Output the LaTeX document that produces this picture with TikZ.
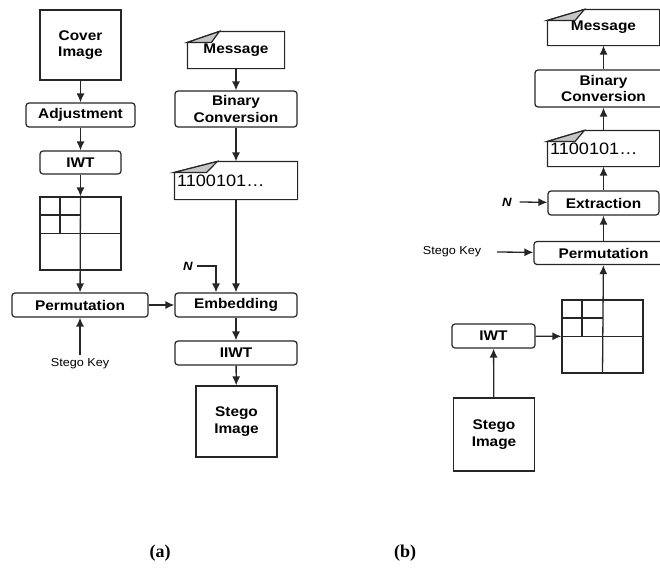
\documentclass[tikz,border=0pt]{standalone}
\usepackage{fontspec}
\setmainfont{Liberation Sans}[FakeStretch=1.1]
\newfontfamily\capfont{Liberation Serif}
\usetikzlibrary{arrows.meta, calc, positioning}

% folded-corner document outline around a node
\newcommand{\docfold}[2]{%
  \draw[boxline] (#1.south west) -- ($(#1.north west)+(0,11)$) -- ($(#1.north west)+(#2,0)$)
    -- (#1.north east) -- (#1.south east) -- cycle;
  \filldraw[boxline, fill=gray!45] ($(#1.north west)+(0,11)$) -- ($(#1.north west)+(#2,0)$)
    -- ($(#1.north west)+(0.75*#2,11)$) -- cycle;
}
% wavelet sub-band lines inside a square node
\newcommand{\subgrid}[1]{%
  \draw[boxline] (#1.west) -- (#1.east);
  \draw[boxline] ($(#1.north west)!0.25!(#1.north east)$) -- ($(#1.west)!0.25!(#1.east)$);
  \draw[boxline] ($(#1.north west)!0.5!(#1.west)$) -- ($(#1.north)!0.5!(#1.center)$);
}

\begin{document}
\begin{tikzpicture}[
        x=1pt, y=-1pt,
        >={Latex[length=9pt,width=8pt]},
        line width=1.2pt,
        boxline/.style={draw=black!85, line width=1.2pt},
        % rounded process boxes
        block/.style={
            rectangle,
            boxline,
            rounded corners=3pt,
            inner sep=0pt,
            minimum height=24pt,
            align=center,
            font=\bfseries\fontsize{14}{16.5}\selectfont
        },
        % image boxes
        imgblock/.style={block, rounded corners=0pt},
        % message boxes (outline drawn by \docfold)
        docblock/.style={block, draw=none},
        gridblock/.style={rectangle, boxline, inner sep=0pt, minimum width=81pt, minimum height=73pt},
        keytext/.style={font=\fontsize{11.5}{13}\selectfont},
        ntext/.style={font=\bfseries\itshape\fontsize{12}{14}\selectfont},
        captext/.style={font=\capfont\bfseries\fontsize{18}{20}\selectfont},
        line/.style={->, draw=black!85, line width=1.3pt}
    ]

    \useasboundingbox (0,0) rectangle (660,570);
    \clip (0,0) rectangle (660,570);

    % --- (a) EMBEDDING ---
    \node [imgblock, minimum width=81pt, minimum height=70pt] (covera) at (80.5,45) {Cover\\Image};
    \node [block, minimum width=109pt] (adja) at (80.5,115) {Adjustment};
    \node [block, minimum width=81pt, minimum height=23pt] (iwta) at (80.5,162.5) {IWT};
    \node [gridblock] (grida) at (80.5,233.5) {};
    \subgrid{grida}
    \node [block, minimum width=136pt] (perma) at (80,305) {Permutation};
    \node [keytext] (keya) at (80,364) {Stego Key};

    \node [docblock, minimum width=96pt, minimum height=36pt] (msga) at (236,50) {\raisebox{-3pt}{Message}};
    \docfold{msga}{32}
    \node [block, minimum width=122pt, minimum height=36pt] (bina) at (236,109) {Binary\\Conversion};
    \node [docblock, minimum width=122pt, minimum height=37pt, font=\fontsize{16.5}{18}\selectfont,
           text width=118pt, align=left] (bitsa) at (236,180.5) {\raisebox{-5pt}{1100101…}};
    \docfold{bitsa}{43}
    \node [ntext] (na) at (188,266) {N};
    \node [block, minimum width=122pt] (emba) at (236,305) {Embedding};
    \node [block, minimum width=122pt] (iiwta) at (236,353) {IIWT};
    \node [imgblock, minimum width=81pt, minimum height=71pt] (stegoa) at (236.5,421.5) {Stego\\Image};

    \draw [line] (covera) -- (adja);
    \draw [line] (adja) -- (iwta);
    \draw [line] (iwta) -- (grida);
    \draw [line] (grida.north) -- (perma);
    \draw [line] (keya) -- (perma);
    \draw [line] (perma) -- (emba);
    \draw [line] (msga) -- (bina);
    \draw [line] (bina) -- (bitsa);
    \draw [line] (bitsa) -- (emba);
    \draw [line] (na.east) -| ([xshift=-20pt]emba.north);
    \draw [line] (emba) -- (iiwta);
    \draw [line] (iiwta) -- (stegoa);

    % --- (b) EXTRACTION ---
    \node [docblock, minimum width=111pt, minimum height=35pt] (msgb) at (603.5,27.5) {\raisebox{-3pt}{Message}};
    \docfold{msgb}{37}
    \node [block, minimum width=137pt, minimum height=37pt] (binb) at (603.5,88.5) {Binary\\Conversion};
    \node [docblock, minimum width=111pt, minimum height=35pt, font=\fontsize{16.5}{18}\selectfont,
           text width=107pt, align=left] (bitsb) at (603.5,148.5) {\raisebox{-4pt}{1100101…}};
    \docfold{bitsb}{37}
    \node [block, minimum width=111pt] (extb) at (603.5,203) {Extraction};
    \node [ntext] (nb) at (507,202) {N};
    \node [block, minimum width=139pt, minimum height=23pt] (permb) at (603.5,253) {Permutation};
    \node [keytext] (keyb) at (452,252) {Stego Key};
    \node [gridblock] (gridb) at (602.5,336.5) {};
    \subgrid{gridb}
    \node [block, minimum width=83pt] (iwtb) at (493.5,336) {IWT};
    \node [imgblock, minimum width=81pt, minimum height=73pt] (stegob) at (494,434.5) {Stego\\Image};

    \draw [line] (stegob) -- (iwtb);
    \draw [line] (iwtb) -- (gridb);
    \draw [line] (gridb.south) -- (permb);
    \draw [line] ([xshift=12pt]keyb.east) -- (permb);
    \draw [line] (permb) -- (extb);
    \draw [line] ([xshift=4pt]nb.east) -- (extb);
    \draw [line] (extb) -- (bitsb);
    \draw [line] (bitsb) -- (binb);
    \draw [line] (binb) -- (msgb);

    % --- CAPTIONS ---
    \node [captext] (capa) at (160,553) {(a)};
    \node [captext] (capb) at (405,553) {(b)};

\end{tikzpicture}
\end{document}
